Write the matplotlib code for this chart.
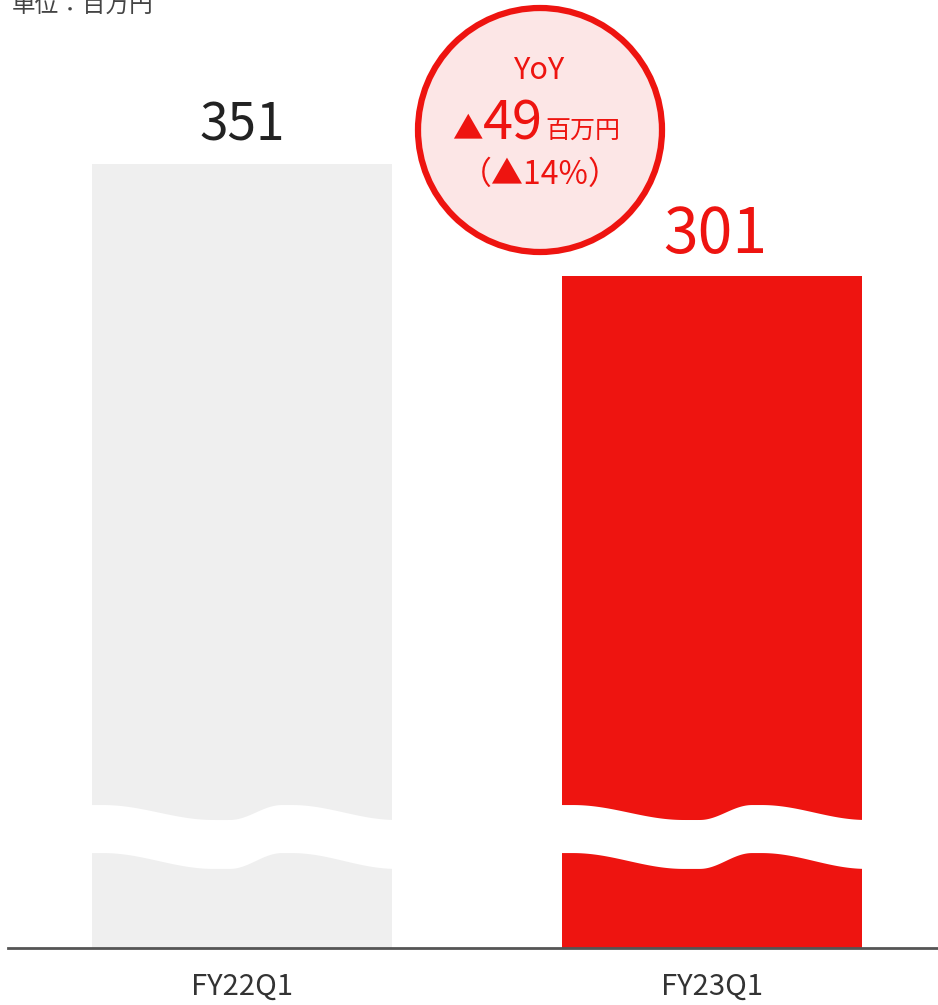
import matplotlib
matplotlib.use("Agg")
import matplotlib.pyplot as plt
import numpy as np
from matplotlib.patches import Circle, Polygon

plt.rcParams['font.family'] = ['Noto Sans CJK JP', 'DejaVu Sans']

# データ（単位：百万円）
categories = ["FY22Q1", "FY23Q1"]
values = [351, 301]
yoy_diff = "49"
yoy_pct = "（▲14%）"

GRAY = "#efefef"
RED = "#ee1410"
bar_colors = [GRAY, RED]
label_colors = ["#222222", RED]

W, H = 938, 1005
fig = plt.figure(figsize=(W / 100, H / 100), dpi=100)

# 棒グラフ本体
ax = fig.add_axes([8 / W, 57 / H, 930 / W, 948 / H])
x = np.arange(len(categories))
bar_w = 300 / 470
ax.bar(x, values, width=bar_w, color=bar_colors, zorder=2)
ax.set_xlim((8 - 242) / 470, (938 - 242) / 470)
ax.set_ylim(0, 424.4)
ax.axis("off")

# 基準線
ax.axhline(0, color="#555555", lw=2, zorder=3, clip_on=False)

# 省略を示す波線
def wave(t, hi, lo):
    kt = [0.0, 0.05, 0.41, 0.46, 0.63, 0.66, 1.0]
    ky = [hi, hi, lo, lo, hi, hi, lo]
    out = np.empty_like(t)
    for i in range(len(kt) - 1):
        m = (t >= kt[i]) & (t <= kt[i + 1])
        s = (t[m] - kt[i]) / (kt[i + 1] - kt[i])
        e = (1 - np.cos(np.pi * s)) / 2
        out[m] = ky[i] + (ky[i + 1] - ky[i]) * e
    return out

t = np.linspace(0, 1, 200)
top_edge = wave(t, 64.0, 57.3)
bot_edge = wave(t, 42.5, 35.4)
for xi in x:
    xs = xi - bar_w / 2 - 0.01 + t * (bar_w + 0.02)
    pts = np.column_stack([np.r_[xs, xs[::-1]], np.r_[top_edge, bot_edge[::-1]]])
    ax.add_patch(Polygon(pts, closed=True, facecolor="white", edgecolor="none", zorder=4))

# 値ラベル
sizes = [37, 45]
offsets = [5, 4]
for xi, v, c, s, o in zip(x, values, label_colors, sizes, offsets):
    ax.text(xi + 0.008 * xi, v + o, f"{v}", ha="center", va="bottom", fontsize=s, color=c, zorder=5)

# カテゴリラベル
for xi, cat in zip(x, categories):
    ax.text(xi, -17.5, cat, ha="center", va="center", fontsize=21, color="#333333")

# 前年比の吹き出し（ピクセル座標）
ov = fig.add_axes([0, 0, 1, 1])
ov.set_xlim(0, W)
ov.set_ylim(H, 0)
ov.axis("off")
ov.add_patch(Circle((540, 130), 122, facecolor="#fce6e6", edgecolor=RED, lw=4.5, zorder=6))
ov.text(540, 70, "YoY", ha="center", va="center", fontsize=22, color=RED, zorder=7)
ov.text(483, 138, "▲", ha="right", va="baseline", fontsize=22, color=RED, zorder=7)
ov.text(543, 139, yoy_diff, ha="right", va="baseline", fontsize=39, color=RED, zorder=7)
ov.text(545, 139, "百万円", ha="left", va="baseline", fontsize=18, color=RED, zorder=7)
ov.text(540, 175, yoy_pct, ha="center", va="center", fontsize=23, color=RED, zorder=7)

# 単位
ov.text(12, 12, "単位：百万円", ha="left", va="baseline", fontsize=17, color="#444444")

fig.savefig("out.png", dpi=100)
